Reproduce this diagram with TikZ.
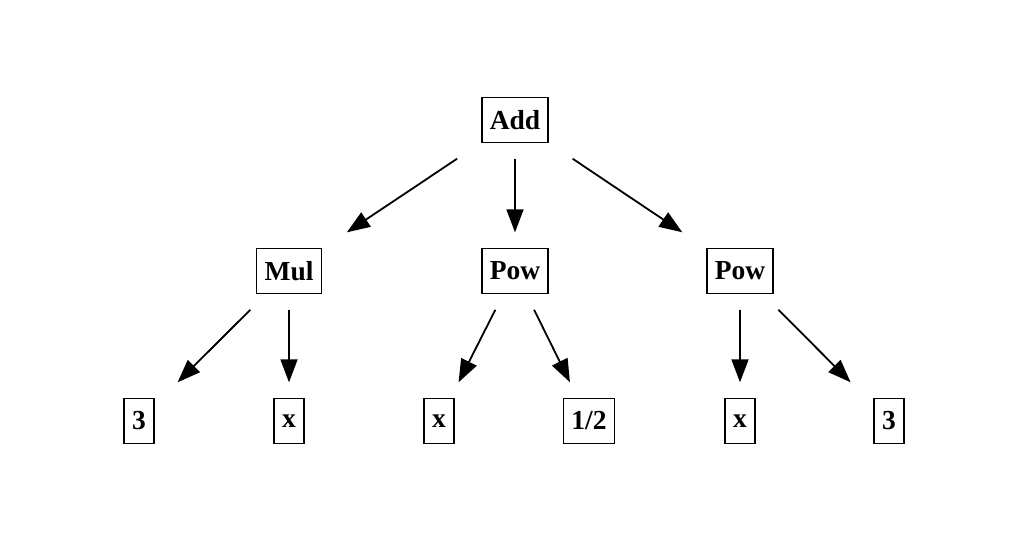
\documentclass[tikz,border=0pt]{standalone}
\usepackage{fontspec}
\setmainfont{Liberation Serif}
\usetikzlibrary{arrows.meta}
\begin{document}
\begin{tikzpicture}[x=1pt,y=-1pt,
  outer/.style={draw=none,inner sep=0pt,minimum width=124pt,minimum height=77pt},
  box/.style={draw,line width=1.8pt,inner xsep=8pt,inner ysep=0pt,minimum height=45pt,
    font=\bfseries\fontsize{27.5}{30}\selectfont},
  edge/.style={line width=1.8pt,-{Triangle[length=23pt,width=17pt]}}]
\useasboundingbox (0,0) rectangle (1030,542);
% outer (invisible) nodes used for connectors
\node[outer] (add) at (515,120) {};
\node[outer] (mul) at (289,271) {};
\node[outer] (powa) at (515,271) {};
\node[outer] (powb) at (740,271) {};
\node[outer] (la) at (139,421) {};
\node[outer] (lb) at (289,421) {};
\node[outer] (lc) at (439,421) {};
\node[outer] (ld) at (589,421) {};
\node[outer] (le) at (740,421) {};
\node[outer] (lf) at (889,421) {};
% visible boxes
\node[box] (addb) at (add) {Add};
\node[box] (mulb) at (mul) {Mul};
\node[box] (powab) at (powa) {Pow};
\node[box] (powbb) at (powb) {Pow};
\node[box] (lab) at (la) {3};
\node[box] (lbb) at (lb) {x};
\node[box] (lcb) at (lc) {x};
\node[box] (ldb) at (ld) {1/2};
\node[box] (leb) at (le) {x};
\node[box] (lfb) at (lf) {3};
% connectors
\draw[edge] (add) -- (mul);
\draw[edge] (add) -- (powa);
\draw[edge] (add) -- (powb);
\draw[edge] (mul) -- (la);
\draw[edge] (mul) -- (lb);
\draw[edge] (powa) -- (lc);
\draw[edge] (powa) -- (ld);
\draw[edge] (powb) -- (le);
\draw[edge] (powb) -- (lf);
\end{tikzpicture}
\end{document}
